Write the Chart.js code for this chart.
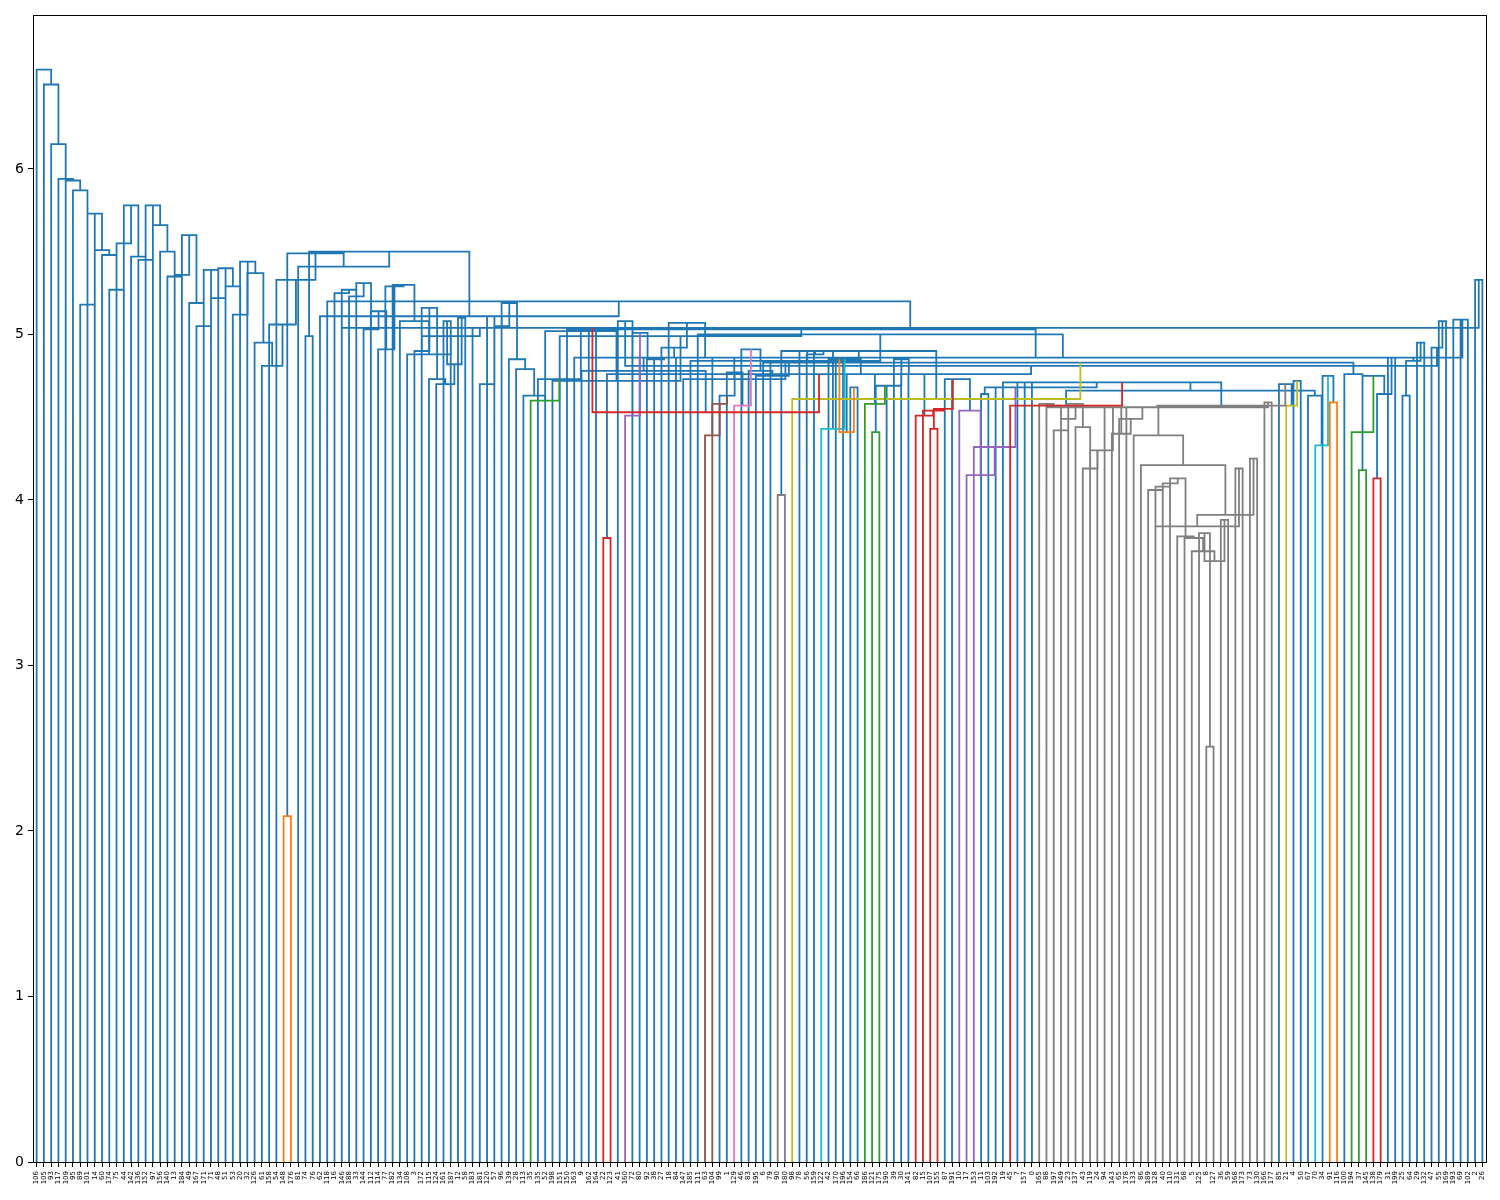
<!DOCTYPE html>
<html lang="en">
<head>
<meta charset="UTF-8">
<title>Dendrogram</title>
<script src="https://cdn.jsdelivr.net/npm/chart.js"></script>
<style>
  html, body { margin: 0; padding: 0; background: #fff; }
  #wrap { width: 1500px; height: 1200px; }
</style>
</head>
<body>
<div id="wrap"><canvas id="dendro" width="1500" height="1200"></canvas></div>
<script>
// leaf order, left to right
const leafLabels = [
  '106','105','93','117','109','95','89','101','14','60',
  '174','75','44','142','136','152','97','156','140','13',
  '184','49','167','171','71','48','51','53','20','32',
  '126','61','158','54','148','176','81','74','76','62',
  '118','16','146','188','33','144','112','114','77','182',
  '134','108','3','172','115','124','161','187','12','58',
  '183','181','120','57','96','139','28','113','35','135',
  '52','198','151','150','163','9','162','164','22','123',
  '41','160','72','80','92','38','27','18','84','147',
  '185','111','63','104','99','1','129','46','83','195',
  '6','79','90','180','98','78','56','159','122','42',
  '170','196','154','66','186','121','175','190','39','30',
  '141','82','15','107','155','87','191','10','17','153',
  '11','103','192','19','45','7','157','0','165','88',
  '197','149','23','137','43','119','24','94','143','65',
  '178','133','86','189','128','40','110','131','68','5',
  '125','8','127','36','59','168','173','73','130','166',
  '177','85','21','4','50','67','70','34','91','116',
  '100','194','37','145','138','179','31','199','25','64',
  '29','132','47','55','169','193','69','102','2','26'
];

// one merge per gap between neighbouring leaves: height of the link
const mergeHeight = [
  6.60, 6.51, 6.15, 5.94, 5.93, 5.87, 5.18, 5.73, 5.51, 5.48,
  5.27, 5.55, 5.78, 5.47, 5.45, 5.78, 5.66, 5.50, 5.35, 5.36,
  5.60, 5.19, 5.05, 5.39, 5.22, 5.40, 5.29, 5.12, 5.44, 5.37,
  4.95, 4.81, 5.06, 5.33, 2.09, 5.49, 5.41, 4.99, 5.50, 5.11,
  5.20, 5.25, 5.27, 5.23, 5.31, 5.03, 5.14, 4.91, 5.29, 5.30,
  5.08, 4.88, 4.90, 5.16, 4.73, 4.70, 5.08, 4.82, 5.10, 4.99,
  5.04, 4.70, 5.11, 5.05, 5.19, 4.85, 4.79, 4.63, 4.60, 4.73,
  5.02, 4.72, 4.99, 5.03, 4.86, 4.78, 5.04, 4.53, 3.77, 4.76,
  5.08, 4.51, 5.01, 4.86, 4.85, 4.86, 4.92, 5.07, 4.86, 4.73,
  4.84, 5.00, 4.39, 4.58, 4.63, 4.77, 4.57, 4.91, 4.78, 4.75,
  4.83, 4.84, 4.03, 4.90, 4.61, 4.90, 4.88, 4.90, 4.43, 4.85,
  4.85, 4.41, 4.68, 4.76, 4.58, 4.41, 4.69, 4.69, 4.85, 4.76,
  4.76, 4.51, 4.54, 4.43, 4.55, 4.73, 4.73, 4.54, 4.15, 4.32,
  4.64, 4.68, 4.68, 4.71, 4.57, 4.71, 4.71, 4.71, 4.58, 4.57,
  4.42, 4.49, 4.58, 4.44, 4.19, 4.30, 4.30, 4.56, 4.40, 4.49,
  4.56, 4.39, 4.21, 4.06, 4.08, 4.10, 4.13, 3.78, 3.77, 3.69,
  3.80, 2.51, 3.63, 3.88, 3.84, 4.19, 3.91, 4.25, 4.56, 4.59,
  4.57, 4.70, 4.57, 4.72, 4.66, 4.63, 4.33, 4.75, 4.59, 4.83,
  4.76, 4.41, 4.18, 4.75, 4.13, 4.64, 4.86, 4.86, 4.63, 4.84,
  4.95, 4.81, 4.92, 5.08, 4.86, 5.09, 5.09, 5.04, 5.33
];

// merge order of each gap (later merge = parent of earlier ones)
const mergeStep = [
  999, 998, 997, 996, 995, 994, 993, 992, 991, 990,
  989, 988, 987, 986, 985, 984, 983, 982, 981, 980,
  979, 978, 977, 976, 975, 974, 973, 972, 971, 970,
  969, 968, 967, 966,   1, 965, 964,   1, 963, 962,
  961, 959, 958, 957, 956, 955, 954, 953, 952, 951,
  950, 949,   6,   5,   4,   3,   1,   2,   1, 948,
  947, 946, 945, 944, 943, 942, 941, 940, 939, 938,
  937, 936, 935, 934, 932, 931,   1, 930,   1, 929,
  927, 926, 925, 924, 923, 922, 921, 920, 919, 918,
  917, 916, 914, 913, 912, 911, 910, 909, 908, 907,
  906, 905,   1, 904, 903, 902, 901, 900, 899, 898,
    1,   2,   1, 897, 896,   1, 895, 894, 893, 892,
  891, 889, 888,   1, 887, 886, 885, 884, 883, 882,
    1, 881, 880, 879, 877,   2,   1, 876, 873, 872,
  871, 870, 869, 868, 867, 866, 865, 864, 863, 862,
  861, 860, 859, 856, 855, 854, 853, 852, 851, 850,
    2,   1, 849,   1, 857,   1, 858,   1, 874,   1,
  875,   3,   2,   1, 878,   4,   3,   2,   1, 902.5,
    6,   5,   3,   4,   2,   3,   2, 915,   1,   2,
    1, 928,   2,   1, 933,   1,   2, 960,   1
];

// link colour, index into palette (0 = above threshold)
const mergeColor = [
  0, 0, 0, 0, 0, 0, 0, 0, 0, 0,
  0, 0, 0, 0, 0, 0, 0, 0, 0, 0,
  0, 0, 0, 0, 0, 0, 0, 0, 0, 0,
  0, 0, 0, 0, 1, 0, 0, 0, 0, 0,
  0, 0, 0, 0, 0, 0, 0, 0, 0, 0,
  0, 0, 0, 0, 0, 0, 0, 0, 0, 0,
  0, 0, 0, 0, 0, 0, 0, 0, 2, 0,
  0, 0, 0, 0, 0, 0, 0, 3, 3, 0,
  0, 4, 0, 0, 0, 0, 0, 0, 0, 0,
  0, 0, 5, 5, 0, 0, 6, 0, 0, 0,
  0, 0, 7, 0, 8, 0, 0, 0, 9, 0,
  0, 1, 0, 0, 2, 2, 0, 0, 0, 0,
  0, 3, 3, 3, 3, 0, 0, 4, 4, 4,
  0, 0, 0, 0, 3, 0, 0, 0, 7, 7,
  7, 7, 7, 7, 7, 7, 7, 7, 7, 7,
  7, 7, 7, 7, 7, 7, 7, 7, 7, 7,
  7, 7, 7, 7, 7, 7, 7, 7, 7, 7,
  7, 0, 8, 0, 0, 0, 9, 0, 1, 0,
  0, 2, 2, 0, 3, 0, 0, 0, 0, 0,
  0, 0, 0, 0, 0, 0, 0, 0, 0
];

const palette = ['#1f77b4', '#ff7f0e', '#2ca02c', '#d62728', '#9467bd',
                 '#8c564b', '#e377c2', '#7f7f7f', '#bcbd22', '#17becf'];
const yTicks = [0, 1, 2, 3, 4, 5, 6];

// rebuild the tree: the gap merged last inside a range splits it
const links = [];
function build(lo, hi) {
  if (lo === hi) return { x: 5 + 10 * lo, y: 0 };
  let g = lo;
  for (let k = lo + 1; k < hi; k++) {
    if (mergeStep[k] > mergeStep[g]) g = k;
  }
  const a = build(lo, g);
  const b = build(g + 1, hi);
  const h = mergeHeight[g];
  links.push({ pts: [[a.x, a.y], [a.x, h], [b.x, h], [b.x, b.y]], color: mergeColor[g] });
  return { x: (a.x + b.x) / 2, y: h };
}
build(0, leafLabels.length - 1);

const datasets = palette.map((c, ci) => {
  const data = [];
  links.filter(l => l.color === ci).forEach(l => {
    l.pts.forEach(p => data.push({ x: p[0], y: p[1] }));
    data.push({ x: l.pts[3][0], y: null });
  });
  return {
    data: data,
    borderColor: c,
    borderWidth: 1.8,
    pointRadius: 0,
    fill: false,
    tension: 0,
    spanGaps: false,
    order: ci === 0 ? 10 : 1
  };
}).filter(d => d.data.length);

const frame = {
  id: 'frame',
  afterDraw(chart) {
    const a = chart.chartArea, ctx = chart.ctx;
    ctx.save();
    ctx.strokeStyle = '#000';
    ctx.lineWidth = 1;
    ctx.strokeRect(a.left + 0.5, a.top + 0.5, a.right - a.left, a.bottom - a.top);
    ctx.restore();
  }
};

const yMax = Math.max(...mergeHeight) * 1.05;

new Chart(document.getElementById('dendro').getContext('2d'), {
  type: 'line',
  data: { datasets: datasets },
  options: {
    responsive: false,
    animation: false,
    devicePixelRatio: 1,
    layout: { padding: { top: 15, right: 14, left: 0, bottom: 0 } },
    plugins: { legend: { display: false }, tooltip: { enabled: false } },
    scales: {
      x: {
        type: 'linear',
        min: 0,
        max: leafLabels.length * 10,
        afterBuildTicks: s => { s.ticks = leafLabels.map((_, i) => ({ value: 5 + 10 * i })); },
        afterFit: s => { s.height = 38; },
        ticks: {
          autoSkip: false, minRotation: 90, maxRotation: 90, padding: 4,
          color: '#000', font: { family: 'DejaVu Sans', size: 7 },
          callback: (v, i) => leafLabels[i]
        },
        grid: { drawOnChartArea: false, drawTicks: true, tickLength: 5, color: '#000' },
        border: { color: '#000' }
      },
      y: {
        min: 0,
        max: yMax,
        afterBuildTicks: s => { s.ticks = yTicks.map(v => ({ value: v })); },
        afterFit: s => { s.width = 33; },
        ticks: { color: '#000', padding: 4, font: { family: 'DejaVu Sans', size: 14 } },
        grid: { drawOnChartArea: false, drawTicks: true, tickLength: 5, color: '#000' },
        border: { color: '#000' }
      }
    }
  },
  plugins: [frame]
});
</script>
</body>
</html>
